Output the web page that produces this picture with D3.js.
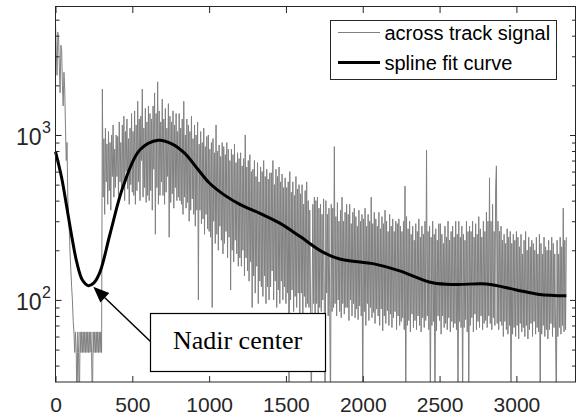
<!DOCTYPE html>
<html>
<head>
<meta charset="utf-8">
<script src="https://cdn.jsdelivr.net/npm/d3@7/dist/d3.min.js"></script>
<style>
  html, body { margin: 0; padding: 0; background: #fff; }
  svg { display: block; }
</style>
</head>
<body>
<div id="app"></div>
<script>
// across track signal, one value every `signalStep` along track (one row = 100 units)
const signalStep = 5
const signalValues = [
  4800, 3200, 2300, 4200, 3900, 2600, 1800, 3500, 3300, 2000, 1500, 2400, 1900, 1100, 700, 900, 420, 330, 260, 190,
  150, 120, 100, 75, 64, 48, 64, 48, 20, 64, 48, 20, 64, 48, 64, 48, 64, 48, 64, 48,
  64, 48, 64, 48, 64, 48, 64, 48, 20, 64, 48, 64, 48, 64, 48, 64, 48, 64, 48, 64,
  48, 1900, 420, 950, 330, 1100, 520, 880, 380, 1050, 460, 900, 350, 1000, 560, 1150, 420, 820, 480, 1000,
  560, 980, 430, 1200, 520, 900, 450, 1150, 480, 1300, 400, 1050, 600, 1250, 470, 950, 380, 1100, 500, 1350,
  450, 1050, 430, 1400, 380, 1150, 460, 1600, 520, 1250, 400, 1300, 700, 1900, 420, 1100, 480, 1450, 390, 1200,
  430, 1500, 400, 1350, 460, 1250, 350, 1500, 620, 1800, 250, 1350, 480, 2100, 380, 1400, 430, 1200, 520, 1650,
  430, 1250, 380, 1450, 450, 1100, 560, 1550, 240, 1300, 390, 1200, 440, 1400, 360, 1150, 480, 1350, 400, 1050,
  420, 1350, 400, 1100, 380, 1250, 330, 1600, 420, 1000, 360, 1250, 390, 1150, 300, 1050, 350, 1300, 410, 950,
  330, 1150, 280, 1000, 350, 1200, 100, 880, 350, 1050, 290, 900, 310, 1100, 250, 850, 330, 980, 270, 1000,
  260, 820, 240, 900, 90, 950, 300, 780, 220, 1150, 250, 800, 200, 870, 280, 740, 230, 900, 190, 850,
  220, 760, 260, 900, 180, 820, 240, 700, 115, 820, 200, 760, 170, 880, 230, 680, 190, 780, 160, 720,
  180, 780, 160, 650, 200, 720, 140, 1000, 180, 640, 150, 700, 130, 760, 170, 600, 90, 620, 140, 700,
  110, 560, 160, 680, 95, 520, 130, 640, 120, 600, 105, 700, 140, 560, 95, 620, 120, 540, 100, 590,
  120, 590, 150, 700, 100, 500, 130, 620, 90, 560, 115, 640, 95, 520, 130, 580, 100, 480, 120, 550,
  95, 480, 110, 520, 25, 600, 100, 450, 115, 520, 85, 430, 105, 560, 90, 470, 110, 500, 80, 440,
  110, 500, 80, 380, 105, 460, 90, 520, 95, 400, 90, 350, 100, 20, 85, 380, 95, 420, 75, 400,
  95, 420, 80, 360, 90, 380, 85, 330, 100, 410, 85, 20, 400, 110, 330, 80, 360, 90, 20, 380,
  85, 360, 90, 850, 95, 320, 80, 390, 100, 300, 85, 350, 78, 420, 95, 300, 82, 340, 90, 380,
  90, 330, 75, 380, 100, 290, 80, 340, 95, 360, 78, 320, 88, 280, 76, 350, 92, 300, 80, 330,
  20, 310, 85, 360, 70, 280, 95, 330, 75, 300, 90, 420, 78, 290, 84, 340, 72, 310, 88, 280,
  80, 340, 70, 270, 88, 320, 65, 290, 80, 350, 72, 300, 86, 260, 70, 330, 82, 280, 68, 310,
  78, 260, 85, 300, 66, 290, 80, 310, 70, 280, 74, 260, 78, 300, 66, 490, 20, 320, 70, 270,
  75, 300, 64, 250, 82, 280, 68, 230, 75, 290, 66, 260, 80, 310, 70, 240, 64, 280, 78, 250,
  68, 300, 75, 810, 80, 260, 66, 280, 20, 240, 70, 300, 74, 250, 20, 270, 65, 230, 80, 290,
  75, 290, 62, 250, 80, 220, 68, 280, 72, 240, 66, 300, 78, 230, 64, 260, 74, 280, 68, 240,
  72, 300, 66, 250, 20, 300, 74, 240, 68, 280, 20, 250, 68, 230, 76, 300, 64, 260, 20, 280,
  70, 260, 78, 300, 64, 240, 82, 290, 66, 250, 74, 320, 68, 270, 80, 240, 66, 300, 72, 260,
  75, 340, 68, 300, 80, 550, 72, 300, 66, 380, 78, 260, 70, 480, 650, 72, 300, 66, 260, 74,
  280, 70, 230, 60, 250, 74, 220, 66, 270, 62, 240, 70, 260, 20, 220, 62, 250, 68, 230, 60,
  260, 70, 240, 58, 210, 72, 250, 64, 190, 68, 230, 60, 260, 70, 200, 58, 240, 66, 210, 72,
  230, 60, 220, 74, 200, 62, 240, 68, 190, 64, 250, 20, 220, 62, 190, 70, 240, 60, 210, 66,
  200, 58, 230, 66, 200, 72, 240, 60, 220, 68, 190, 64, 20, 230, 60, 190, 68, 240, 62, 210,
  70, 360, 64, 230, 66, 240
]

// spline fit curve, read at its knots
const fitX = [0, 40, 73, 105, 138, 175, 214, 250, 290, 355, 441, 550, 669, 760, 840, 920, 1000,
  1100, 1200, 1330, 1460, 1590, 1740, 1850, 1950, 2065, 2240, 2455, 2610, 2805, 3000, 3150, 3325]
const fitY = [793, 550, 367, 245, 170, 132, 122, 127, 148, 251, 490, 813, 929, 881, 776, 631, 513,
  432, 380, 335, 292, 243, 195, 177, 171, 166, 150, 127, 124, 125, 115, 108, 106]

const xTicks = [0, 500, 1000, 1500, 2000, 2500, 3000]
const yMajorTicks = [100, 1000]
const yMinorTicks = [40, 50, 60, 70, 80, 90, 200, 300, 400, 500, 600, 700, 800, 900, 2000, 3000, 4000, 5000]
const legendLabels = ['across track signal', 'spline fit curve']
const noteText = 'Nadir center'

const width = 578
const height = 417
const plot = { left: 55.5, right: 576, top: 7, bottom: 382 }
const axisColor = '#262626'
const font = '"Liberation Sans", Arial, sans-serif'

const svg = d3.select('#app').append('svg')
  .attr('width', width)
  .attr('height', height)

const x = d3.scaleLinear().domain([0, 3388]).range([plot.left, plot.right])
const y = d3.scaleLog().domain([31.8, 5970]).range([plot.bottom, plot.top])

svg.append('clipPath').attr('id', 'plot-clip')
  .append('rect')
  .attr('x', plot.left).attr('y', plot.top)
  .attr('width', plot.right - plot.left).attr('height', plot.bottom - plot.top)

// noisy signal
const signalLine = d3.line()
  .x((d, i) => x(i * signalStep))
  .y((d) => y(d))

svg.append('path')
  .datum(signalValues)
  .attr('clip-path', 'url(#plot-clip)')
  .attr('fill', 'none')
  .attr('stroke', '#808080')
  .attr('stroke-width', 1)
  .attr('d', signalLine)

// fit curve
const fitLine = d3.line()
  .x((d, i) => x(fitX[i]))
  .y((d) => y(d))
  .curve(d3.curveCatmullRom.alpha(0.5))

svg.append('path')
  .datum(fitY)
  .attr('fill', 'none')
  .attr('stroke', '#000')
  .attr('stroke-width', 3)
  .attr('stroke-linejoin', 'round')
  .attr('d', fitLine)

// ticks on all four sides, pointing inward
function styleAxis(g) {
  g.select('.domain').remove()
  g.selectAll('line').attr('stroke', axisColor)
  g.selectAll('text').attr('fill', axisColor).style('font-family', font).style('font-size', '21px')
}

svg.append('g')
  .attr('transform', `translate(0,${plot.bottom})`)
  .call(d3.axisBottom(x).tickValues(xTicks).tickSizeInner(-6).tickSizeOuter(0).tickPadding(15).tickFormat(d3.format('d')))
  .call(styleAxis)

svg.append('g')
  .attr('transform', `translate(0,${plot.top})`)
  .call(d3.axisTop(x).tickValues(xTicks).tickSizeInner(-6).tickSizeOuter(0).tickFormat(''))
  .call(styleAxis)

const yAxes = [
  [d3.axisLeft, plot.left],
  [d3.axisRight, plot.right]
]
yAxes.forEach(([axisFn, pos]) => {
  svg.append('g')
    .attr('transform', `translate(${pos},0)`)
    .call(axisFn(y).tickValues(yMajorTicks).tickSizeInner(-6).tickSizeOuter(0).tickFormat(''))
    .call(styleAxis)
  svg.append('g')
    .attr('transform', `translate(${pos},0)`)
    .call(axisFn(y).tickValues(yMinorTicks).tickSizeInner(-4).tickSizeOuter(0).tickFormat(''))
    .call(styleAxis)
})

// y labels as 10 with a raised exponent
const yLabels = svg.append('g').selectAll('g')
  .data(yMajorTicks)
  .join('g')
  .attr('transform', (d) => `translate(0,${y(d)})`)

yLabels.append('text')
  .attr('x', 41.5)
  .attr('y', 10)
  .attr('text-anchor', 'end')
  .attr('fill', axisColor)
  .style('font-family', font)
  .style('font-size', '23px')
  .text('10')

yLabels.append('text')
  .attr('x', 42)
  .attr('y', -2)
  .attr('fill', axisColor)
  .style('font-family', font)
  .style('font-size', '16px')
  .text((d) => Math.round(Math.log10(d)))

// axes box
svg.append('rect')
  .attr('x', plot.left)
  .attr('y', plot.top - 0.5)
  .attr('width', plot.right - plot.left - 0.5)
  .attr('height', plot.bottom - plot.top + 0.5)
  .attr('fill', 'none')
  .attr('stroke', axisColor)
  .attr('stroke-width', 1)

// legend
const legend = svg.append('g').attr('transform', 'translate(330.5,20.5)')
legend.append('rect')
  .attr('width', 226)
  .attr('height', 59)
  .attr('fill', '#fff')
  .attr('stroke', axisColor)
  .attr('stroke-width', 1)

const legendRows = legend.selectAll('g.row')
  .data(legendLabels)
  .join('g')
  .attr('class', 'row')
  .attr('transform', (d, i) => `translate(0,${12 + i * 30})`)

legendRows.append('line')
  .attr('x1', 7.5).attr('x2', 49.5)
  .attr('stroke', (d, i) => (i === 0 ? '#808080' : '#000'))
  .attr('stroke-width', (d, i) => (i === 0 ? 1 : 3))

legendRows.append('text')
  .attr('x', 54)
  .attr('y', 7)
  .attr('fill', '#000')
  .style('font-family', font)
  .style('font-size', '20px')
  .text((d) => d)

// nadir annotation: arrow + boxed label
const arrowTip = [93.3, 286.7]
const arrowTail = [150.5, 341.5]
const ang = Math.atan2(arrowTail[1] - arrowTip[1], arrowTail[0] - arrowTip[0])
const headLen = 16
const headHalf = 6.5
const bx = arrowTip[0] + headLen * Math.cos(ang)
const by = arrowTip[1] + headLen * Math.sin(ang)

svg.append('line')
  .attr('x1', arrowTail[0]).attr('y1', arrowTail[1])
  .attr('x2', bx).attr('y2', by)
  .attr('stroke', '#000')
  .attr('stroke-width', 1.5)

svg.append('path')
  .attr('d', `M${arrowTip[0]},${arrowTip[1]}` +
    `L${bx - headHalf * Math.sin(ang)},${by + headHalf * Math.cos(ang)}` +
    `L${bx + headHalf * Math.sin(ang)},${by - headHalf * Math.cos(ang)}Z`)
  .attr('fill', '#000')

svg.append('rect')
  .attr('x', 150.5).attr('y', 313.5)
  .attr('width', 175).attr('height', 58)
  .attr('fill', '#fff')
  .attr('stroke', '#000')
  .attr('stroke-width', 1.2)

svg.append('text')
  .attr('x', 237.5)
  .attr('y', 348.5)
  .attr('text-anchor', 'middle')
  .attr('fill', '#000')
  .style('font-family', '"Liberation Serif", "Times New Roman", serif')
  .style('font-size', '26px')
  .text(noteText)
</script>
</body>
</html>
